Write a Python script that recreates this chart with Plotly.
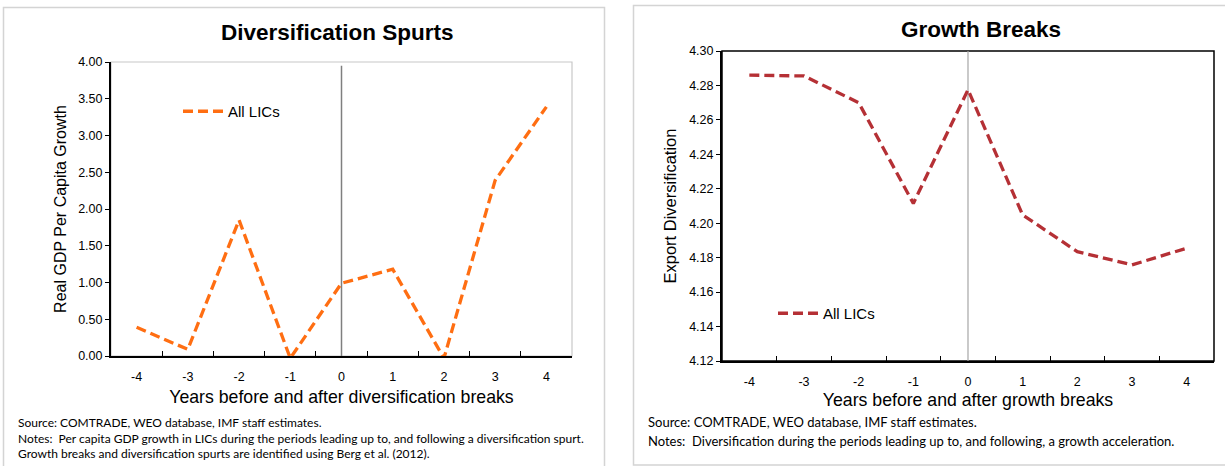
import plotly.graph_objects as go

years = [-4, -3, -2, -1, 0, 1, 2, 3, 4]
gdp_growth_div = [0.39, 0.09, 1.85, -0.03, 0.99, 1.18, -0.03, 2.39, 3.39]
export_div_growth = [4.286, 4.2855, 4.270, 4.2115, 4.2775, 4.2048, 4.1835, 4.1758, 4.1855]

left_yticks = [0, 0.5, 1.0, 1.5, 2.0, 2.5, 3.0, 3.5, 4.0]
right_yticks = [4.12, 4.14, 4.16, 4.18, 4.20, 4.22, 4.24, 4.26, 4.28, 4.30]

W, H = 1225, 466
def px(x):
    return x / W
def py(y):
    return 1 - y / H

FONT = "Liberation Sans"
NOTE_FONT = "Lato"

fig = go.Figure()

# vertical reference lines at 0
fig.add_trace(go.Scatter(x=[0, 0], y=[0, 3.95], mode="lines",
                         line=dict(color="#7f7f7f", width=1.5),
                         showlegend=False, hoverinfo="skip", xaxis="x", yaxis="y"))
fig.add_trace(go.Scatter(x=[0, 0], y=[4.12, 4.30], mode="lines",
                         line=dict(color="#a6a6a6", width=1.2),
                         showlegend=False, hoverinfo="skip", xaxis="x2", yaxis="y2"))

fig.add_trace(go.Scatter(x=years, y=gdp_growth_div, mode="lines", name="All LICs",
                         line=dict(color="#FF6E12", width=3.3, dash="10px,5px"),
                         xaxis="x", yaxis="y", legend="legend"))
fig.add_trace(go.Scatter(x=years, y=export_div_growth, mode="lines", name="All LICs",
                         line=dict(color="#B53035", width=3.3, dash="10px,5px"),
                         xaxis="x2", yaxis="y2", legend="legend2"))

tickfont = dict(family=FONT, size=12.5, color="black")

xcommon = dict(range=[-4.5, 4.5], tickmode="array", tickvals=years,
               ticktext=[str(v) for v in years], ticks="", showgrid=False,
               zeroline=False, showline=True, linecolor="black", linewidth=2,
               tickfont=tickfont, ticklabelstandoff=8, automargin=False,
               minor=dict(tickmode="array", tickvals=[v + 0.5 for v in years[:-1]],
                          ticks="inside", ticklen=5, tickwidth=1, tickcolor="black"))

fig.update_layout(
    width=W, height=H,
    margin=dict(l=0, r=0, t=0, b=0, autoexpand=False),
    paper_bgcolor="white", plot_bgcolor="white",
    xaxis=dict(domain=[px(111), px(572)], anchor="y",
               title=dict(text="Years before and after diversification breaks",
                          font=dict(family=FONT, size=17.7, color="black"), standoff=8),
               **xcommon),
    yaxis=dict(domain=[py(356), py(62)], anchor="x", range=[0, 4.0],
               tickmode="array", tickvals=left_yticks,
               ticktext=[f"{v:.2f}" for v in left_yticks],
               ticks="outside", ticklen=4, tickcolor="black",
               showgrid=False, zeroline=False, showline=True, linecolor="black", linewidth=2,
               tickfont=tickfont, automargin=False,
               title=dict(text="Real GDP Per Capita Growth",
                          font=dict(family=FONT, size=16, color="black"), standoff=8)),
    xaxis2=dict(domain=[px(722), px(1214)], anchor="y2",
                title=dict(text="Years before and after growth breaks",
                           font=dict(family=FONT, size=17.7, color="black"), standoff=6),
                **xcommon),
    yaxis2=dict(domain=[py(361), py(51)], anchor="x2", range=[4.12, 4.30],
                tickmode="array", tickvals=right_yticks,
                ticktext=[f"{v:.2f}" for v in right_yticks],
                ticks="outside", ticklen=4, tickcolor="black",
                showgrid=False, zeroline=False, showline=True, linecolor="black", linewidth=2,
                tickfont=tickfont, automargin=False,
                title=dict(text="Export Diversification",
                           font=dict(family=FONT, size=16.5, color="black"), standoff=8)),
    legend=dict(x=px(178), y=py(95), xanchor="left", yanchor="top",
                bgcolor="rgba(0,0,0,0)", font=dict(family=FONT, size=15, color="black"),
                itemwidth=40),
    legend2=dict(x=px(773), y=py(297), xanchor="left", yanchor="top",
                 bgcolor="rgba(0,0,0,0)", font=dict(family=FONT, size=15, color="black"),
                 itemwidth=40),
    showlegend=True,
)

shapes = [
    # panel frames
    dict(type="rect", xref="paper", yref="paper", x0=px(3.5), x1=px(604.5), y0=py(470), y1=py(7.5),
         line=dict(color="#d4d4d4", width=1.5), layer="below"),
    dict(type="rect", xref="paper", yref="paper", x0=px(633.5), x1=px(1230), y0=py(465), y1=py(5.5),
         line=dict(color="#d4d4d4", width=1.5), layer="below"),
    # left plot box (light gray top/right)
    dict(type="rect", xref="x domain", yref="y domain", x0=0, x1=1, y0=0, y1=1,
         line=dict(color="#c8c8c8", width=1.2), layer="below"),
    # right plot box (black)
    dict(type="rect", xref="x2 domain", yref="y2 domain", x0=0, x1=1, y0=0, y1=1,
         line=dict(color="black", width=1.5), layer="below"),
]
fig.update_layout(shapes=shapes)

annotations = [
    dict(text="<b>Diversification Spurts</b>", x=px(337), y=py(33), xref="paper", yref="paper",
         showarrow=False, font=dict(family=FONT, size=22.5, color="black"), xanchor="center", yanchor="middle"),
    dict(text="<b>Growth Breaks</b>", x=px(981), y=py(30), xref="paper", yref="paper",
         showarrow=False, font=dict(family=FONT, size=22.5, color="black"), xanchor="center", yanchor="middle"),
    dict(text="Source: COMTRADE, WEO database, IMF staff estimates.", x=px(16), y=py(422),
         xref="paper", yref="paper", showarrow=False, xanchor="left", yanchor="middle",
         font=dict(family=NOTE_FONT, size=12, color="black")),
    dict(text="Notes:  Per capita GDP growth in LICs during the periods leading up to, and following a diversification spurt.",
         x=px(16), y=py(438), xref="paper", yref="paper", showarrow=False, xanchor="left", yanchor="middle",
         font=dict(family=NOTE_FONT, size=12, color="black")),
    dict(text="Growth breaks and diversification spurts are identified using Berg et al. (2012).",
         x=px(16), y=py(453), xref="paper", yref="paper", showarrow=False, xanchor="left", yanchor="middle",
         font=dict(family=NOTE_FONT, size=12, color="black")),
    dict(text="Source: COMTRADE, WEO database, IMF staff estimates.", x=px(646), y=py(422),
         xref="paper", yref="paper", showarrow=False, xanchor="left", yanchor="middle",
         font=dict(family=NOTE_FONT, size=13, color="black")),
    dict(text="Notes:  Diversification during the periods leading up to, and following, a growth acceleration.",
         x=px(646), y=py(441), xref="paper", yref="paper", showarrow=False, xanchor="left", yanchor="middle",
         font=dict(family=NOTE_FONT, size=13, color="black")),
]
fig.update_layout(annotations=annotations)

fig.write_html("out.html",
               config={"displayModeBar": False},
               post_script="document.body.style.margin='0';document.body.style.overflow='hidden';")
